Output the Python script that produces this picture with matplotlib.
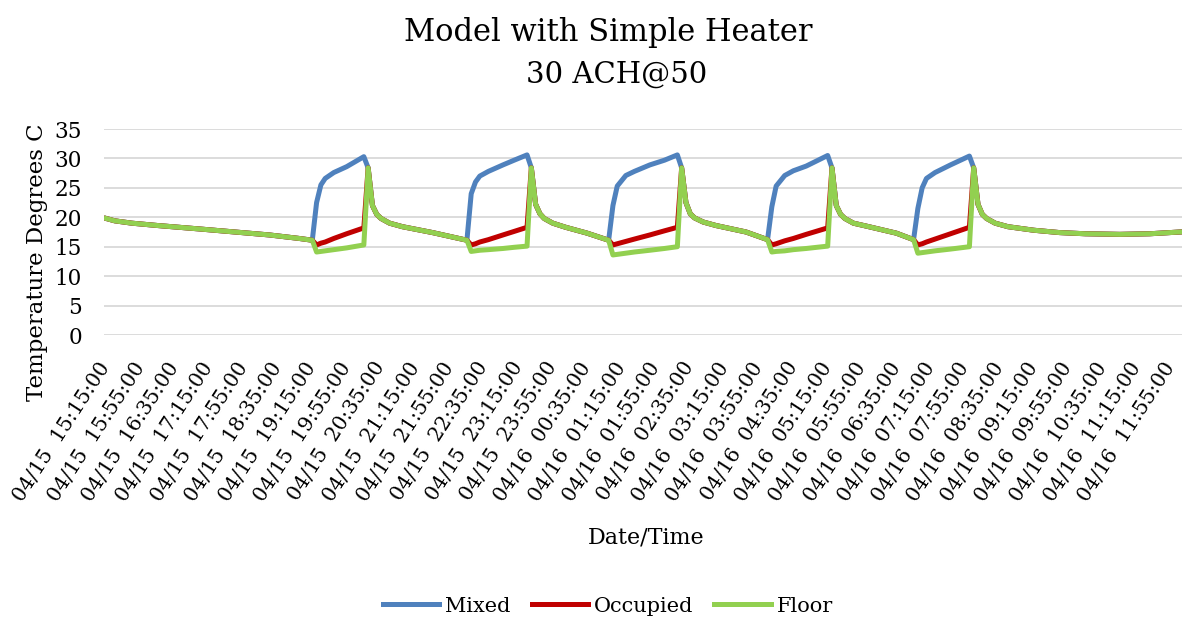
import matplotlib
matplotlib.use('Agg')
import numpy as np
from matplotlib import pyplot as plt
from matplotlib import rc
from matplotlib.transforms import ScaledTranslation

rc('font', family='DejaVu Serif')

# elapsed minutes since 04/15 15:15 (5 minute logging, key samples only)
minutes = [0, 10, 30, 60, 110, 150, 190, 225,
           240, 245, 250, 255, 265, 280, 300, 305, 310, 315, 320, 330, 345, 380,
           420, 425, 430, 435, 445, 462, 475, 490, 495, 500, 505, 510, 520, 535, 560,
           585, 590, 595, 605, 615, 633, 650, 665, 670, 675, 680, 685, 695, 710, 745,
           770, 775, 780, 790, 800, 815, 840, 845, 850, 855, 860, 870, 885, 920,
           940, 945, 950, 955, 965, 983, 1005, 1010, 1015, 1020, 1025, 1035, 1050,
           1080, 1110, 1140, 1180, 1215, 1250]

mixed = [19.8, 19.4, 19.0, 18.6, 18.0, 17.5, 17.0, 16.4,
         16.1, 22.5, 25.5, 26.6, 27.6, 28.6, 30.3, 28.4, 22.0, 20.5, 19.8, 19.0, 18.4, 17.4,
         16.1, 24.0, 26.0, 27.0, 27.8, 28.9, 29.7, 30.6, 28.4, 22.2, 20.6, 19.8, 19.0, 18.3, 17.3,
         16.1, 22.0, 25.3, 27.1, 27.8, 28.9, 29.7, 30.6, 28.4, 22.5, 20.6, 19.9, 19.2, 18.6, 17.5,
         16.2, 21.8, 25.3, 27.1, 27.9, 28.7, 30.5, 28.4, 22.0, 20.5, 19.8, 19.0, 18.5, 17.3,
         16.2, 21.5, 25.0, 26.6, 27.6, 28.9, 30.4, 28.4, 22.2, 20.5, 19.8, 19.0, 18.4,
         17.8, 17.4, 17.2, 17.1, 17.2, 17.5]

occupied = [19.8, 19.4, 19.0, 18.6, 18.0, 17.5, 17.0, 16.4,
            16.1, 15.3, 15.6, 15.8, 16.4, 17.2, 18.2, 28.4, 22.0, 20.5, 19.8, 19.0, 18.4, 17.4,
            16.1, 15.3, 15.5, 15.8, 16.2, 17.0, 17.6, 18.3, 28.4, 22.2, 20.6, 19.8, 19.0, 18.3, 17.3,
            16.1, 15.3, 15.5, 15.9, 16.3, 17.0, 17.7, 18.3, 28.4, 22.5, 20.6, 19.9, 19.2, 18.6, 17.5,
            16.2, 15.3, 15.5, 16.0, 16.4, 17.1, 18.2, 28.4, 22.0, 20.5, 19.8, 19.0, 18.5, 17.3,
            16.2, 15.3, 15.5, 15.8, 16.3, 17.2, 18.3, 28.4, 22.2, 20.5, 19.8, 19.0, 18.4,
            17.8, 17.4, 17.2, 17.1, 17.2, 17.5]

floor = [19.8, 19.4, 19.0, 18.6, 18.0, 17.5, 17.0, 16.4,
         16.1, 14.1, 14.2, 14.3, 14.5, 14.8, 15.3, 28.4, 22.0, 20.5, 19.8, 19.0, 18.4, 17.4,
         16.1, 14.2, 14.3, 14.4, 14.5, 14.7, 14.9, 15.1, 28.4, 22.2, 20.6, 19.8, 19.0, 18.3, 17.3,
         16.1, 13.6, 13.7, 13.9, 14.1, 14.4, 14.7, 15.0, 28.4, 22.5, 20.6, 19.9, 19.2, 18.6, 17.5,
         16.2, 14.1, 14.2, 14.3, 14.5, 14.7, 15.1, 28.4, 22.0, 20.5, 19.8, 19.0, 18.5, 17.3,
         16.2, 13.9, 14.0, 14.1, 14.3, 14.6, 15.0, 28.4, 22.2, 20.5, 19.8, 19.0, 18.4,
         17.8, 17.4, 17.2, 17.1, 17.2, 17.5]

tick_labels = ['04/15  15:15:00', '04/15  15:55:00', '04/15  16:35:00', '04/15  17:15:00',
               '04/15  17:55:00', '04/15  18:35:00', '04/15  19:15:00', '04/15  19:55:00',
               '04/15  20:35:00', '04/15  21:15:00', '04/15  21:55:00', '04/15  22:35:00',
               '04/15  23:15:00', '04/15  23:55:00', '04/16  00:35:00', '04/16  01:15:00',
               '04/16  01:55:00', '04/16  02:35:00', '04/16  03:15:00', '04/16  03:55:00',
               '04/16  04:35:00', '04/16  05:15:00', '04/16  05:55:00', '04/16  06:35:00',
               '04/16  07:15:00', '04/16  07:55:00', '04/16  08:35:00', '04/16  09:15:00',
               '04/16  09:55:00', '04/16  10:35:00', '04/16  11:15:00', '04/16  11:55:00']
tick_step = 40

fig = plt.figure(figsize=(11.82, 6.19), dpi=100)
ax = fig.add_axes([104/1182, 1 - 335/619, 1 - 104/1182, (335 - 129)/619])

lw = 3.6
ax.plot(minutes, mixed, color='#4F81BD', lw=lw, label='Mixed', solid_joinstyle='round')
ax.plot(minutes, occupied, color='#C00000', lw=lw, label='Occupied', solid_joinstyle='round')
ax.plot(minutes, floor, color='#92D050', lw=lw, label='Floor', solid_joinstyle='round')

ax.set_xlim(-2.5, 1252.5)
ax.set_ylim(0, 35)
ax.set_yticks(np.arange(0, 36, 5))
ax.grid(axis='y', color='#D9D9D9', lw=1.3)
ax.set_axisbelow(True)
for s in ax.spines.values():
    s.set_visible(False)

ax.set_xticks(np.arange(len(tick_labels)) * tick_step)
ax.set_xticklabels(tick_labels, rotation=57, ha='right', va='top', rotation_mode='anchor')
ax.tick_params(axis='x', length=0, pad=17, labelsize=14.5)
ax.tick_params(axis='y', length=0, pad=16, labelsize=15.5)
# nudge the slanted labels so their right ends sit on the category
shift = ScaledTranslation(-0.08, 0, fig.dpi_scale_trans)
for lab in ax.get_xticklabels():
    lab.set_transform(lab.get_transform() + shift)

fig.text(608/1182, 1 - 33/619, 'Model with Simple Heater', ha='center', va='center', fontsize=22)
fig.text(617/1182, 1 - 75/619, '30 ACH@50', ha='center', va='center', fontsize=21)
fig.text(37/1182, 1 - 262/619, 'Temperature Degrees C', ha='center', va='center',
         rotation=90, fontsize=16.5)
fig.text(646/1182, 1 - 538/619, 'Date/Time', ha='center', va='center', fontsize=16)

fig.legend(loc='center', bbox_to_anchor=(608/1182, 1 - 606/619), ncol=3, frameon=False,
           fontsize=15, handlelength=2.7, handletextpad=0.3, columnspacing=1.0)

fig.savefig('out.png', dpi=100)
